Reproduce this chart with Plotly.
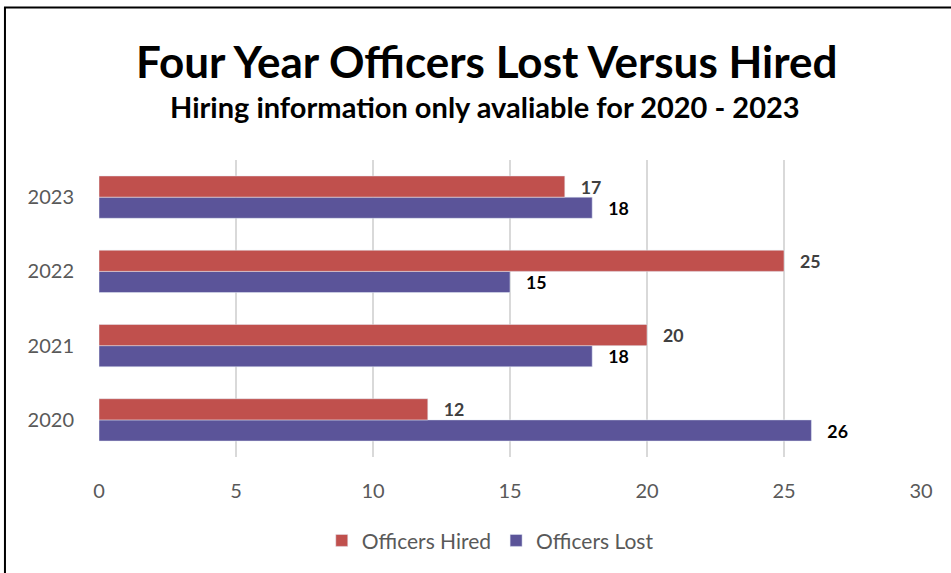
import plotly.graph_objects as go

years = ["2020", "2021", "2022", "2023"]
officers_hired = [12, 20, 25, 17]
officers_lost = [26, 18, 15, 18]
x_ticks = [0, 5, 10, 15, 20, 25, 30]

FONT = "Lato"
RED = "#C0504D"
BLUE = "#5B5499"

fig = go.Figure()
fig.add_trace(go.Bar(
    y=years, x=officers_lost, orientation="h", name="Officers Lost",
    marker=dict(color=BLUE), legendrank=2,
    text=officers_lost, texttemplate="\u00a0\u00a0\u00a0%{x}", textposition="outside",
    textfont=dict(family=FONT, size=21, color="#000000", weight="bold"),
    cliponaxis=False,
))
fig.add_trace(go.Bar(
    y=years, x=officers_hired, orientation="h", name="Officers Hired",
    marker=dict(color=RED), legendrank=1,
    text=officers_hired, texttemplate="\u00a0\u00a0\u00a0%{x}", textposition="outside",
    textfont=dict(family=FONT, size=21, color="#404040", weight="bold"),
    cliponaxis=False,
))

fig.update_layout(
    width=951, height=573,
    margin=dict(l=99, r=30, t=160, b=112),
    paper_bgcolor="white", plot_bgcolor="white",
    barmode="group", bargap=0.43, bargroupgap=0.0,
    font=dict(family=FONT, color="#595959"),
    showlegend=True,
    legend=dict(orientation="h", x=0.476, xanchor="center", y=-0.282, yanchor="middle",
                font=dict(size=21, color="#595959"), traceorder="normal",
                itemwidth=30),
    xaxis=dict(range=[0, 30], tickvals=x_ticks, showgrid=True, gridcolor="#D9D9D9",
               gridwidth=2, zeroline=False, showline=False, ticks="",
               tickfont=dict(size=20, color="#595959"), ticklabelstandoff=20,
               fixedrange=True),
    yaxis=dict(categoryorder="array", categoryarray=years, showgrid=False,
               zeroline=False, showline=False, ticks="",
               tickfont=dict(size=20, color="#595959"), ticklabelstandoff=24),
    annotations=[
        dict(text="<b>Four Year Officers Lost Versus Hired</b>", xref="paper", yref="paper",
             x=0.4714, y=1.335, xanchor="center", yanchor="middle", showarrow=False,
             font=dict(family=FONT, size=44, color="#000000")),
        dict(text="<b>Hiring information only avaliable for 2020 - 2023</b>", xref="paper", yref="paper",
             x=0.470, y=1.18, xanchor="center", yanchor="middle", showarrow=False,
             font=dict(family=FONT, size=29, color="#000000")),
    ],
    shapes=[
        dict(type="rect", xref="paper", yref="paper", x0=-0.1144, x1=1.2, y0=-0.6, y1=1.5134,
             line=dict(color="#000000", width=2), fillcolor="rgba(0,0,0,0)", layer="above"),
    ],
)

fig.write_html(
    "out.html",
    config={"displayModeBar": False},
    post_script="document.body.style.margin='0';document.body.style.overflow='hidden';",
)
